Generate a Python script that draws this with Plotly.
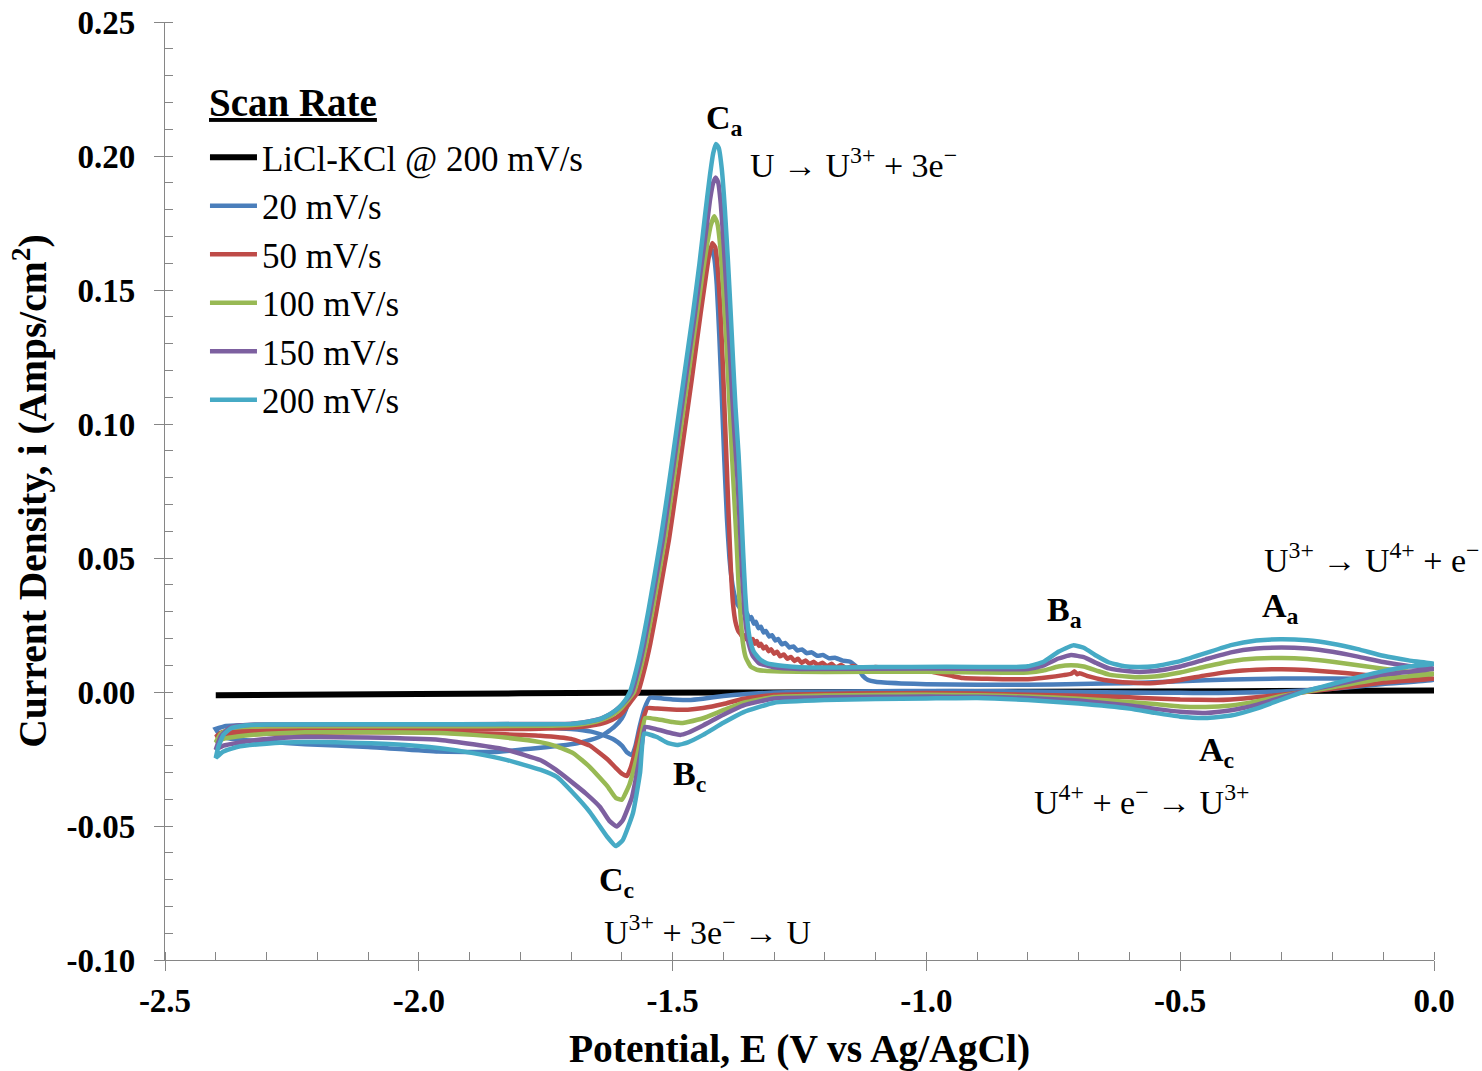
import plotly.graph_objects as go

# ---------------- data (E in V vs Ag/AgCl, i in A/cm2) ----------------
series_names = ["LiCl-KCl @ 200 mV/s", "20 mV/s", "50 mV/s", "100 mV/s", "150 mV/s", "200 mV/s"]
series_colors = ["#000000", "#4A7EBB", "#BE4B48", "#98B954", "#7D60A0", "#46AAC5"]

blank_cv = [(-2.40, -0.0012), (-2.0, -0.0007), (-1.6, -0.0003), (-1.2, -0.0001),
            (-0.8, 0.0001), (-0.4, 0.0003), (0.0, 0.0006)]

# 20 mV/s
blue_fwd = [(0.0, 0.0045), (-0.1, 0.0030), (-0.2, 0.0012), (-0.3, 0.0002), (-0.4, -0.0003),
            (-0.45, -0.0004), (-0.5, -0.0003), (-0.6, -0.0002), (-0.7, 0.0), (-0.8, 0.0002),
            (-0.9, 0.0003), (-1.0, 0.0004), (-1.1, 0.0003), (-1.2, 0.0001), (-1.3, -0.0002),
            (-1.36, -0.0008), (-1.40, -0.0015), (-1.44, -0.0025), (-1.47, -0.0030), (-1.48, -0.0030),
            (-1.50, -0.0028), (-1.52, -0.0024), (-1.545, -0.0022), (-1.555, -0.0060), (-1.565, -0.0130),
            (-1.573, -0.0200), (-1.580, -0.0236), (-1.590, -0.0225), (-1.600, -0.0200), (-1.615, -0.0178),
            (-1.637, -0.0161), (-1.66, -0.0148), (-1.70, -0.0138), (-1.75, -0.0133), (-1.854, -0.0130),
            (-1.95, -0.0127), (-2.1, -0.0125), (-2.25, -0.0123), (-2.35, -0.0124), (-2.38, -0.0127),
            (-2.40, -0.0138)]
blue_rev = [(-2.40, -0.0138), (-2.39, -0.0165), (-2.37, -0.0175), (-2.30, -0.0185), (-2.224, -0.0195),
            (-2.10, -0.0205), (-1.962, -0.0222), (-1.854, -0.0224), (-1.78, -0.0212), (-1.72, -0.0200),
            (-1.688, -0.0191), (-1.66, -0.0178), (-1.637, -0.0161), (-1.615, -0.0130), (-1.600, -0.0098),
            (-1.590, -0.0055), (-1.582, 0.0), (-1.570, 0.008), (-1.558, 0.018), (-1.546, 0.030),
            (-1.534, 0.043), (-1.521, 0.057), (-1.508, 0.074), (-1.495, 0.0914), (-1.476, 0.117),
            (-1.458, 0.141), (-1.447, 0.154), (-1.438, 0.161), (-1.430, 0.165), (-1.424, 0.1655),
            (-1.418, 0.162), (-1.413, 0.152), (-1.408, 0.133), (-1.403, 0.110), (-1.398, 0.086),
            (-1.393, 0.065), (-1.388, 0.050), (-1.382, 0.040), (-1.375, 0.034), (-1.368, 0.0315),
            (-1.362, 0.0306), (-1.358, 0.0290), (-1.354, 0.0296), (-1.349, 0.0272), (-1.345, 0.0280),
            (-1.340, 0.0255), (-1.336, 0.0262), (-1.331, 0.0238), (-1.326, 0.0244), (-1.321, 0.0222),
            (-1.316, 0.0228), (-1.310, 0.0207), (-1.304, 0.0212), (-1.298, 0.0192), (-1.292, 0.0198),
            (-1.285, 0.0178), (-1.278, 0.0183), (-1.270, 0.0166), (-1.262, 0.0170), (-1.254, 0.0155),
            (-1.245, 0.0159), (-1.236, 0.0145), (-1.226, 0.0148), (-1.215, 0.0135), (-1.204, 0.0138),
            (-1.192, 0.0126), (-1.180, 0.0128), (-1.165, 0.0117), (-1.150, 0.0113), (-1.135, 0.0090),
            (-1.125, 0.0060), (-1.115, 0.0045), (-1.10, 0.0038), (-1.05, 0.0032), (-1.00, 0.0029),
            (-0.90, 0.0027), (-0.80, 0.0027), (-0.70, 0.0030), (-0.60, 0.0033), (-0.50, 0.0040),
            (-0.40, 0.0047), (-0.30, 0.0050), (-0.20, 0.0050), (-0.10, 0.0048), (0.0, 0.0045)]

# 50 mV/s
red_fwd = [(0.0, 0.0050), (-0.1, 0.0035), (-0.2, 0.0012), (-0.3, -0.0010), (-0.35, -0.0020),
           (-0.4, -0.0028), (-0.43, -0.0030), (-0.5, -0.0028), (-0.55, -0.0024), (-0.6, -0.0020),
           (-0.7, -0.0014), (-0.8, -0.0010), (-0.9, -0.0006), (-1.0, -0.0004), (-1.1, -0.0005),
           (-1.2, -0.0007), (-1.3, -0.0011), (-1.36, -0.0025), (-1.40, -0.0045), (-1.44, -0.0060),
           (-1.47, -0.0066), (-1.50, -0.0065), (-1.53, -0.0062), (-1.550, -0.0060), (-1.558, -0.0100),
           (-1.566, -0.0155), (-1.575, -0.0230), (-1.583, -0.0285), (-1.590, -0.0313), (-1.600, -0.0305),
           (-1.612, -0.0283), (-1.629, -0.0250), (-1.663, -0.0200), (-1.70, -0.0175), (-1.761, -0.0163),
           (-1.83, -0.0158), (-1.9, -0.0155), (-2.0, -0.0150), (-2.1, -0.0150), (-2.224, -0.0153),
           (-2.30, -0.0156), (-2.358, -0.0160), (-2.385, -0.0163), (-2.40, -0.0168)]
red_rev = [(-2.40, -0.0168), (-2.39, -0.0152), (-2.37, -0.0145), (-2.2, -0.0143), (-2.0, -0.0142),
           (-1.8, -0.0138), (-1.7, -0.0133), (-1.66, -0.0125), (-1.63, -0.0112), (-1.61, -0.0095),
           (-1.598, -0.0075), (-1.586, -0.0045), (-1.576, -0.0020), (-1.568, 0.0), (-1.556, 0.008),
           (-1.544, 0.018), (-1.532, 0.030), (-1.520, 0.043), (-1.507, 0.057), (-1.494, 0.074),
           (-1.481, 0.0914), (-1.462, 0.117), (-1.445, 0.141), (-1.436, 0.153), (-1.429, 0.162),
           (-1.422, 0.1675), (-1.416, 0.166), (-1.411, 0.158), (-1.406, 0.143), (-1.401, 0.122),
           (-1.397, 0.102), (-1.393, 0.083), (-1.389, 0.063), (-1.385, 0.045), (-1.381, 0.033),
           (-1.376, 0.026), (-1.370, 0.0225), (-1.366, 0.0216), (-1.362, 0.0204), (-1.358, 0.0212),
           (-1.354, 0.0195), (-1.350, 0.0205), (-1.346, 0.0188), (-1.342, 0.0198), (-1.338, 0.0180),
           (-1.334, 0.0190), (-1.330, 0.0172), (-1.326, 0.0180), (-1.321, 0.0162), (-1.316, 0.0170),
           (-1.311, 0.0152), (-1.306, 0.0160), (-1.300, 0.0143), (-1.294, 0.0150), (-1.288, 0.0133),
           (-1.281, 0.0140), (-1.274, 0.0124), (-1.267, 0.0131), (-1.260, 0.0116), (-1.253, 0.0124),
           (-1.246, 0.0109), (-1.238, 0.0118), (-1.230, 0.0104), (-1.222, 0.0113), (-1.214, 0.0100),
           (-1.205, 0.0109), (-1.196, 0.0096), (-1.187, 0.0105), (-1.178, 0.0092), (-1.168, 0.0101),
           (-1.158, 0.0089), (-1.145, 0.0097), (-1.130, 0.0089), (-1.100, 0.0093), (-1.070, 0.0086),
           (-1.040, 0.0091), (-1.026, 0.0084), (-1.0, 0.0080), (-0.98, 0.0072), (-0.95, 0.0060),
           (-0.928, 0.0052), (-0.88, 0.0049), (-0.85, 0.0048), (-0.8, 0.0048), (-0.76, 0.0055),
           (-0.73, 0.0063), (-0.715, 0.0068), (-0.708, 0.0077), (-0.703, 0.0066), (-0.698, 0.0070),
           (-0.68, 0.0058), (-0.65, 0.0045), (-0.6, 0.0035), (-0.55, 0.0034), (-0.5, 0.0045),
           (-0.45, 0.0062), (-0.4, 0.0076), (-0.35, 0.0083), (-0.3, 0.0085), (-0.25, 0.0082),
           (-0.2, 0.0075), (-0.15, 0.0066), (-0.1, 0.0058), (-0.05, 0.0053), (0.0, 0.0050)]

# 100 mV/s
green_fwd = [(0.0, 0.0068), (-0.1, 0.0050), (-0.2, 0.0018), (-0.25, 0.0002), (-0.3, -0.0015),
             (-0.35, -0.0035), (-0.4, -0.0050), (-0.45, -0.0056), (-0.5, -0.0054), (-0.55, -0.0045),
             (-0.6, -0.0037), (-0.7, -0.0025), (-0.8, -0.0017), (-0.9, -0.0012), (-1.0, -0.0010),
             (-1.1, -0.0011), (-1.2, -0.0013), (-1.3, -0.0019), (-1.36, -0.0040), (-1.40, -0.0068),
             (-1.44, -0.0098), (-1.47, -0.0112), (-1.481, -0.0116), (-1.50, -0.0112), (-1.53, -0.0102),
             (-1.554, -0.0097), (-1.562, -0.0170), (-1.572, -0.0255), (-1.585, -0.0345), (-1.600, -0.0402),
             (-1.612, -0.0395), (-1.629, -0.0350), (-1.663, -0.0280), (-1.696, -0.0228), (-1.73, -0.0202),
             (-1.761, -0.0187), (-1.83, -0.0170), (-1.893, -0.0160), (-1.958, -0.0153), (-2.1, -0.0150),
             (-2.224, -0.0150), (-2.30, -0.0156), (-2.358, -0.0166), (-2.385, -0.0175), (-2.40, -0.0188)]
green_rev = [(-2.40, -0.0188), (-2.39, -0.0155), (-2.37, -0.0135), (-2.3, -0.0128), (-2.0, -0.0128),
             (-1.75, -0.0126), (-1.68, -0.0120), (-1.65, -0.0110), (-1.63, -0.0097), (-1.615, -0.0082),
             (-1.602, -0.0062), (-1.590, -0.0035), (-1.576, 0.0), (-1.564, 0.008), (-1.552, 0.018),
             (-1.540, 0.030), (-1.528, 0.043), (-1.515, 0.057), (-1.502, 0.074), (-1.489, 0.0914),
             (-1.470, 0.117), (-1.452, 0.141), (-1.441, 0.156), (-1.432, 0.167), (-1.425, 0.174),
             (-1.418, 0.1775), (-1.412, 0.175), (-1.406, 0.166), (-1.400, 0.150), (-1.394, 0.130),
             (-1.389, 0.111), (-1.384, 0.092), (-1.379, 0.074), (-1.374, 0.056), (-1.370, 0.040),
             (-1.366, 0.028), (-1.362, 0.019), (-1.356, 0.0130), (-1.346, 0.0095), (-1.332, 0.0082),
             (-1.3, 0.0077), (-1.2, 0.0075), (-1.0, 0.0076), (-0.85, 0.0072), (-0.8, 0.0073),
             (-0.77, 0.0080), (-0.74, 0.0095), (-0.715, 0.0100), (-0.69, 0.0095), (-0.665, 0.0080),
             (-0.64, 0.0065), (-0.6, 0.0057), (-0.58, 0.0055), (-0.55, 0.0058), (-0.5, 0.0073),
             (-0.45, 0.0095), (-0.4, 0.0115), (-0.35, 0.0125), (-0.30, 0.0127), (-0.25, 0.0123),
             (-0.2, 0.0113), (-0.15, 0.0100), (-0.1, 0.0087), (-0.05, 0.0076), (0.0, 0.0068)]

# 150 mV/s
purple_fwd = [(0.0, 0.0087), (-0.1, 0.0065), (-0.2, 0.0025), (-0.25, 0.0005), (-0.3, -0.0020),
              (-0.35, -0.0048), (-0.4, -0.0068), (-0.45, -0.0078), (-0.5, -0.0074), (-0.55, -0.0063),
              (-0.6, -0.0050), (-0.7, -0.0032), (-0.8, -0.0022), (-0.9, -0.0018), (-1.0, -0.0017),
              (-1.1, -0.0018), (-1.2, -0.0020), (-1.3, -0.0024), (-1.36, -0.0050), (-1.40, -0.0085),
              (-1.44, -0.0125), (-1.47, -0.0152), (-1.485, -0.0160), (-1.50, -0.0155), (-1.53, -0.0140),
              (-1.554, -0.0130), (-1.562, -0.0215), (-1.572, -0.0320), (-1.580, -0.0392), (-1.598, -0.0478),
              (-1.610, -0.0502), (-1.625, -0.0480), (-1.643, -0.0429), (-1.67, -0.0380), (-1.696, -0.0340),
              (-1.73, -0.0290), (-1.761, -0.0254), (-1.826, -0.0216), (-1.893, -0.0195), (-1.958, -0.0179),
              (-2.1, -0.0170), (-2.224, -0.0168), (-2.30, -0.0175), (-2.358, -0.0190), (-2.385, -0.0200),
              (-2.40, -0.0215)]
purple_rev = [(-2.40, -0.0215), (-2.39, -0.0165), (-2.37, -0.0130), (-2.33, -0.0122), (-2.0, -0.0120),
              (-1.7, -0.0118), (-1.66, -0.0108), (-1.64, -0.0098), (-1.625, -0.0085), (-1.612, -0.0068),
              (-1.600, -0.0048), (-1.589, -0.0025), (-1.580, 0.0), (-1.568, 0.008), (-1.556, 0.018),
              (-1.544, 0.030), (-1.532, 0.043), (-1.519, 0.057), (-1.506, 0.074), (-1.493, 0.0914),
              (-1.474, 0.117), (-1.456, 0.141), (-1.444, 0.158), (-1.434, 0.172), (-1.426, 0.184),
              (-1.420, 0.190), (-1.415, 0.192), (-1.410, 0.190), (-1.405, 0.182), (-1.399, 0.166),
              (-1.393, 0.147), (-1.388, 0.130), (-1.383, 0.112), (-1.378, 0.096), (-1.372, 0.079),
              (-1.367, 0.060), (-1.363, 0.044), (-1.359, 0.032), (-1.355, 0.024), (-1.350, 0.018),
              (-1.342, 0.0135), (-1.330, 0.0108), (-1.30, 0.0092), (-1.25, 0.0086), (-1.0, 0.0088),
              (-0.85, 0.0085), (-0.8, 0.0086), (-0.77, 0.0098), (-0.74, 0.0125), (-0.715, 0.0138),
              (-0.69, 0.0130), (-0.665, 0.0108), (-0.64, 0.0088), (-0.6, 0.0077), (-0.58, 0.0075),
              (-0.55, 0.0078), (-0.5, 0.0095), (-0.45, 0.0122), (-0.4, 0.0148), (-0.35, 0.0162),
              (-0.30, 0.0166), (-0.25, 0.0162), (-0.2, 0.0150), (-0.15, 0.0132), (-0.1, 0.0112),
              (-0.05, 0.0097), (0.0, 0.0087)]

# 200 mV/s
teal_fwd = [(0.0, 0.0105), (-0.05, 0.0095), (-0.10, 0.0078), (-0.15, 0.0055), (-0.20, 0.0030),
            (-0.25, 0.0005), (-0.30, -0.0028), (-0.35, -0.0062), (-0.40, -0.0088), (-0.45, -0.0097),
            (-0.50, -0.0092), (-0.55, -0.0078), (-0.60, -0.0062), (-0.70, -0.0043), (-0.80, -0.0030),
            (-0.90, -0.0022), (-1.00, -0.0024), (-1.10, -0.0026), (-1.20, -0.0030), (-1.30, -0.0040),
            (-1.36, -0.0075), (-1.40, -0.0115), (-1.44, -0.0160), (-1.47, -0.0188), (-1.491, -0.0198),
            (-1.51, -0.0190), (-1.531, -0.0168), (-1.556, -0.0155), (-1.564, -0.0300), (-1.578, -0.0451),
            (-1.598, -0.0552), (-1.612, -0.0575), (-1.629, -0.0540), (-1.663, -0.0448), (-1.696, -0.0377),
            (-1.728, -0.0317), (-1.761, -0.0290), (-1.826, -0.0254), (-1.893, -0.0228), (-1.958, -0.0210),
            (-2.05, -0.0195), (-2.15, -0.0188), (-2.224, -0.0187), (-2.30, -0.0193), (-2.358, -0.0205),
            (-2.385, -0.0222), (-2.40, -0.0246)]
teal_rev = [(-2.40, -0.0246), (-2.395, -0.0205), (-2.385, -0.0160), (-2.37, -0.0135), (-2.34, -0.0124),
            (-2.30, -0.0121), (-2.0, -0.0120), (-1.7, -0.0119), (-1.68, -0.0115), (-1.66, -0.0108),
            (-1.643, -0.0101), (-1.630, -0.0090), (-1.617, -0.0075), (-1.604, -0.0055), (-1.593, -0.0030),
            (-1.584, 0.0), (-1.572, 0.008), (-1.560, 0.018), (-1.548, 0.030), (-1.536, 0.043),
            (-1.5235, 0.057), (-1.510, 0.074), (-1.497, 0.0914), (-1.478, 0.117), (-1.460, 0.141),
            (-1.447, 0.160), (-1.436, 0.178), (-1.427, 0.192), (-1.420, 0.201), (-1.4145, 0.2045),
            (-1.409, 0.203), (-1.403, 0.195), (-1.397, 0.180), (-1.391, 0.161), (-1.386, 0.143),
            (-1.381, 0.124), (-1.376, 0.106), (-1.370, 0.0885), (-1.365, 0.069), (-1.361, 0.052),
            (-1.357, 0.037), (-1.353, 0.027), (-1.348, 0.020), (-1.340, 0.0150), (-1.328, 0.0122),
            (-1.314, 0.0107), (-1.28, 0.0097), (-1.249, 0.0092), (-1.1, 0.0093), (-0.96, 0.0094),
            (-0.83, 0.0093), (-0.80, 0.0096), (-0.77, 0.0112), (-0.74, 0.0150), (-0.711, 0.0174),
            (-0.69, 0.0165), (-0.665, 0.0135), (-0.64, 0.0110), (-0.61, 0.0096), (-0.585, 0.0093),
            (-0.55, 0.0096), (-0.50, 0.0115), (-0.45, 0.0145), (-0.40, 0.0175), (-0.35, 0.0192),
            (-0.303, 0.0197), (-0.25, 0.0193), (-0.20, 0.0180), (-0.15, 0.0160), (-0.10, 0.0135),
            (-0.05, 0.0118), (0.0, 0.0105)]

series_loops = [blank_cv, blue_fwd + blue_rev, red_fwd + red_rev, green_fwd + green_rev,
                purple_fwd + purple_rev, teal_fwd + teal_rev]
series_widths = [6, 4.5, 4.5, 4.5, 4.5, 4.5]

x_tick_vals = [-2.5, -2.0, -1.5, -1.0, -0.5, 0.0]
x_tick_text = ["-2.5", "-2.0", "-1.5", "-1.0", "-0.5", "0.0"]
y_tick_vals = [-0.10, -0.05, 0.0, 0.05, 0.10, 0.15, 0.20, 0.25]
y_tick_text = ["-0.10", "-0.05", "0.00", "0.05", "0.10", "0.15", "0.20", "0.25"]

# ---------------- figure ----------------
SERIF = "Liberation Serif, Times New Roman, serif"
AXC = "#868686"

fig = go.Figure()
for name, pts, col, w in zip(series_names, series_loops, series_colors, series_widths):
    fig.add_trace(go.Scatter(
        x=[p[0] for p in pts], y=[p[1] for p in pts], name=name, mode="lines",
        line=dict(color=col, width=w, shape="spline", smoothing=0.4),
        hoverinfo="skip"))

axis_common = dict(showgrid=False, zeroline=False, showline=True, linecolor=AXC, linewidth=1.3,
                   ticks="outside", ticklen=10, tickwidth=1.3, tickcolor=AXC, automargin=False,
                   tickfont=dict(family=SERIF, size=33, color="black", weight="bold"))

fig.update_layout(
    width=1482, height=1071,
    margin=dict(l=165, r=48, t=22, b=111),
    paper_bgcolor="white", plot_bgcolor="white",
    xaxis=dict(range=[-2.5, 0.0], tickmode="array", tickvals=x_tick_vals, ticktext=x_tick_text,
               ticklabelstandoff=1,
               minor=dict(ticks="inside", ticklen=8, tickwidth=1.3, tickcolor=AXC,
                          tickmode="linear", tick0=0, dtick=0.1, showgrid=False),
               title=dict(text="Potential, E (V vs Ag/AgCl)", standoff=17,
                          font=dict(family=SERIF, size=39.5, color="black", weight="bold")),
               **axis_common),
    yaxis=dict(range=[-0.10, 0.25], tickmode="array", tickvals=y_tick_vals, ticktext=y_tick_text,
               ticklabelstandoff=12,
               minor=dict(ticks="inside", ticklen=8, tickwidth=1.3, tickcolor=AXC,
                          tickmode="linear", tick0=0, dtick=0.01, showgrid=False),
               title=dict(text="Current Density, i (Amps/cm<sup>2</sup>)", standoff=7,
                          font=dict(family=SERIF, size=39.5, color="black", weight="bold")),
               **axis_common),
    xaxis2=dict(overlaying="x", anchor="y", side="bottom", range=[-2.5, 0.0], tickmode="array",
                tickvals=x_tick_vals, showticklabels=False, ticks="inside", ticklen=10,
                tickwidth=1.3, tickcolor=AXC, showgrid=False, zeroline=False, showline=False,
                automargin=False),
    yaxis2=dict(overlaying="y", anchor="x", side="left", range=[-0.10, 0.25], tickmode="array",
                tickvals=y_tick_vals, showticklabels=False, ticks="inside", ticklen=10,
                tickwidth=1.3, tickcolor=AXC, showgrid=False, zeroline=False, showline=False,
                automargin=False),
    legend=dict(x=0.0315, y=0.887, xanchor="left", yanchor="top", bgcolor="rgba(0,0,0,0)",
                font=dict(family=SERIF, size=35, color="black"), itemwidth=47),
    showlegend=True,
)

# legend heading
fig.add_annotation(x=0.0331, y=0.9137, xref="paper", yref="paper", xanchor="left", yanchor="middle",
                   text="<b><u>Scan Rate</u></b>", showarrow=False,
                   font=dict(family=SERIF, size=39, color="black"))

bold_font = dict(family=SERIF, size=34, color="black", weight="bold")
eq_font = dict(family=SERIF, size=34, color="black")
labels = [
    ("C<sub>a</sub>", -1.397, 0.2134, "center", bold_font),
    ("B<sub>a</sub>", -0.727, 0.0299, "center", bold_font),
    ("A<sub>a</sub>", -0.303, 0.0313, "center", bold_font),
    ("B<sub>c</sub>", -1.466, -0.0313, "center", bold_font),
    ("A<sub>c</sub>", -0.428, -0.0224, "center", bold_font),
    ("C<sub>c</sub>", -1.610, -0.0709, "center", bold_font),
    ("U → U<sup>3+</sup> + 3e<sup>−</sup>", -1.352, 0.1974, "left", eq_font),
    ("U<sup>3+</sup> → U<sup>4+</sup> + e<sup>−</sup>", -0.339, 0.0500, "left", eq_font),
    ("U<sup>4+</sup> + e<sup>−</sup> → U<sup>3+</sup>", -0.792, -0.0403, "left", eq_font),
    ("U<sup>3+</sup> + 3e<sup>−</sup> → U", -1.639, -0.0888, "left", eq_font),
]
for txt, ex, iy, anc, fnt in labels:
    fig.add_annotation(x=ex, y=iy, xref="x", yref="y", text=txt, showarrow=False,
                       xanchor=anc, yanchor="middle", font=fnt)

fig.write_html("out.html")
